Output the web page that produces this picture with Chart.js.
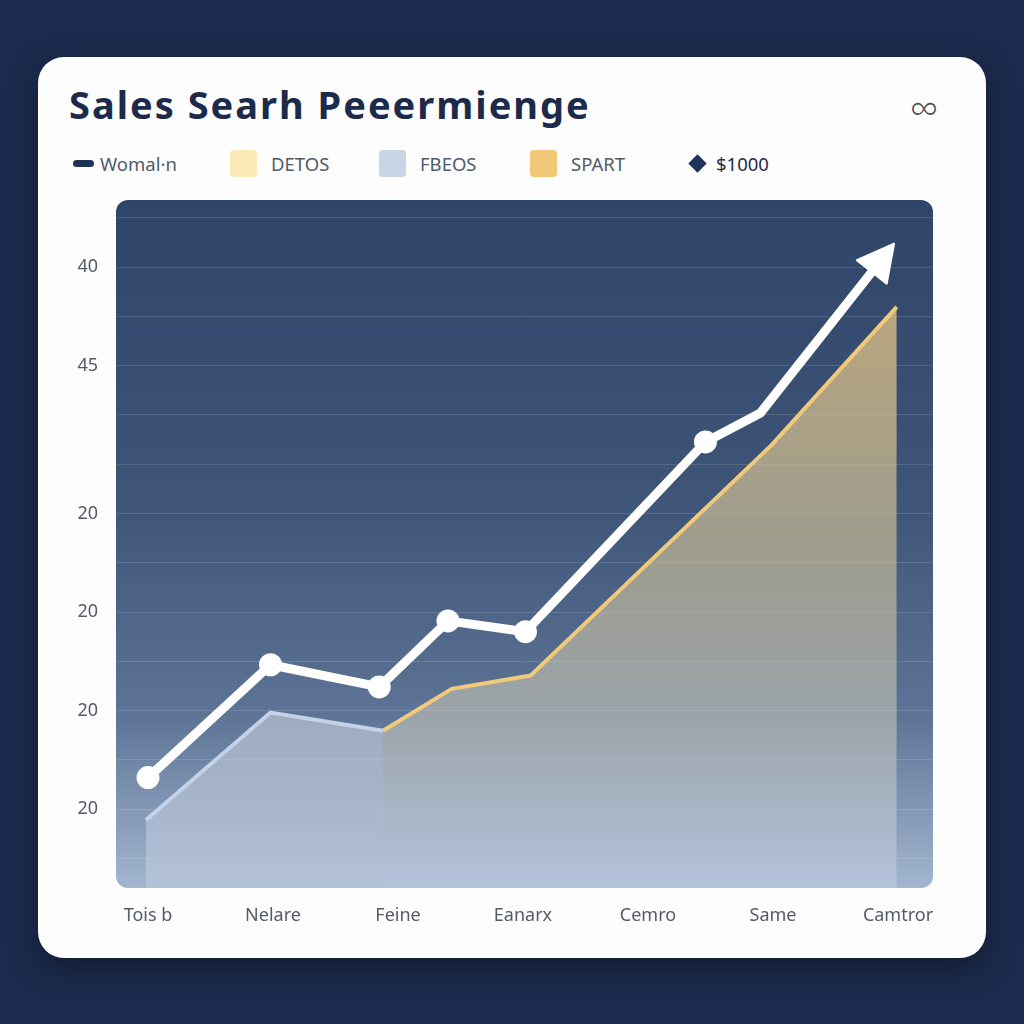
<!DOCTYPE html>
<html>
<head>
<meta charset="utf-8">
<script src="https://cdn.jsdelivr.net/npm/chart.js@4.4.1/dist/chart.umd.min.js"></script>
<style>
  html, body { margin: 0; padding: 0; width: 1024px; height: 1024px; overflow: hidden; }
  body { background: #1b2b4d; font-family: "Noto Sans", "Open Sans", sans-serif; position: relative; }
  .card {
    position: absolute; left: 38px; top: 57px; width: 948px; height: 901px;
    background: #fdfdfd; border-radius: 26px;
    box-shadow: 0 10px 30px rgba(0,0,0,0.35);
  }
  .title {
    position: absolute; left: 69px; top: 78px; margin: 0;
    font-size: 38px; font-weight: 700; color: #1c2b4a; letter-spacing: 2px;
  }
  .icon { position: absolute; left: 910px; top: 80px; font-size: 40px; color: #4a4f5a; font-weight: 300; }
  .legend { position: absolute; top: 148px; left: 0; height: 30px; }
  .lg { position: absolute; top: 0; display: flex; align-items: center; height: 30px;
        font-size: 18.5px; color: #525b6a; white-space: nowrap; }
  .sw { width: 27px; height: 27px; border-radius: 4px; margin-right: 14px; }
  .dash { width: 21px; height: 7px; border-radius: 4px; background: #1f3358; margin-right: 6px; }
  .dia { width: 13px; height: 13px; background: #1f3358; transform: rotate(45deg); margin-right: 12px; margin-left: 3px; }
  canvas { position: absolute; left: 0; top: 0; }
</style>
</head>
<body>
<div class="card"></div>
<h1 class="title">Sales Searh Peeermienge</h1>
<div class="icon">&#8734;</div>
<div class="legend">
  <div class="lg" style="left:73px"><div class="dash"></div>Womal·n</div>
  <div class="lg" style="left:230px"><div class="sw" style="background:#fbe9b6"></div>DETOS</div>
  <div class="lg" style="left:379px"><div class="sw" style="background:#c9d5e4"></div>FBEOS</div>
  <div class="lg" style="left:530px"><div class="sw" style="background:#f0c878"></div>SPART</div>
  <div class="lg" style="left:688px;color:#1f2c48"><div class="dia"></div>$1000</div>
</div>
<canvas id="chart" width="1024" height="1024"></canvas>
<script>
// categories on the x axis
const categories = ['Tois b', 'Nelare', 'Feine', 'Eanarx', 'Cemro', 'Same', 'Camtror'];

// y axis: gridlines and the (odd) labels printed next to some of them
const yGridValues = [1, 2, 3, 4, 5, 6, 7, 8, 9, 10, 11, 12, 13, 14];
const yLabelValues = [2, 4, 6, 8, 11, 13];
const yLabelTexts = ['20', '20', '20', '20', '45', '40'];

// white trend line (last point is the base of the arrow head)
const trendX = [0, 0.98, 1.85, 2.4, 3.02, 4.46, 4.9, 5.79];
const trendY = [2.64, 4.93, 4.48, 5.82, 5.6, 9.45, 10.04, 12.9];

// light blue area
const blueX = [-0.016, 0.98, 1.88];
const blueY = [1.78, 3.96, 3.59];

// gold area
const goldX = [1.88, 2.43, 3.06, 4.99, 5.99];
const goldY = [3.59, 4.44, 4.71, 9.39, 12.19];

function pts(xs, ys) {
    return xs.map(function (x, i) { return { x: x, y: ys[i] }; });
}

// plot background with rounded corners
const plotBg = {
    id: 'plotBg',
    beforeDraw: function (chart) {
        let a = chart.chartArea;
        let ctx = chart.ctx;
        let g = ctx.createLinearGradient(0, a.top, 0, a.bottom);
        g.addColorStop(0, '#2e4468');
        g.addColorStop(0.45, '#3f5679');
        g.addColorStop(0.75, '#5d7496');
        g.addColorStop(1, '#a3b6d0');
        ctx.save();
        ctx.beginPath();
        ctx.roundRect(a.left, a.top, a.right - a.left, a.bottom - a.top, 12);
        ctx.fillStyle = g;
        ctx.fill();
        ctx.restore();
    }
};

// arrow head at the end of the trend line
const arrowHead = {
    id: 'arrowHead',
    afterDatasetsDraw: function (chart) {
        let meta = chart.getDatasetMeta(2);
        let n = meta.data.length;
        let p = meta.data[n - 1], q = meta.data[n - 2];
        let dx = p.x - q.x, dy = p.y - q.y;
        let len = Math.sqrt(dx * dx + dy * dy);
        let ux = dx / len, uy = dy / len;
        let L = 36, W = 19;
        let ctx = chart.ctx;
        ctx.save();
        ctx.beginPath();
        ctx.moveTo(p.x + ux * L, p.y + uy * L);
        ctx.lineTo(p.x - uy * W, p.y + ux * W);
        ctx.lineTo(p.x + uy * W, p.y - ux * W);
        ctx.closePath();
        ctx.fillStyle = '#ffffff';
        ctx.lineJoin = 'round';
        ctx.lineWidth = 2;
        ctx.strokeStyle = '#ffffff';
        ctx.fill();
        ctx.stroke();
        ctx.restore();
    }
};

function goldFill(context) {
    let a = context.chart.chartArea;
    if (!a) return 'rgba(230,195,125,0.6)';
    let g = context.chart.ctx.createLinearGradient(0, a.top + 100, 0, a.bottom);
    g.addColorStop(0, 'rgba(232,198,130,0.75)');
    g.addColorStop(0.5, 'rgba(216,200,158,0.58)');
    g.addColorStop(1, 'rgba(195,208,228,0.5)');
    return g;
}

function blueFill(context) {
    let a = context.chart.chartArea;
    if (!a) return 'rgba(210,218,232,0.5)';
    let g = context.chart.ctx.createLinearGradient(0, a.top + 500, 0, a.bottom);
    g.addColorStop(0, 'rgba(215,220,230,0.55)');
    g.addColorStop(1, 'rgba(198,210,230,0.45)');
    return g;
}

let ctx = document.getElementById('chart').getContext('2d');

let chart = new Chart(ctx, {
    type: 'line',
    data: {
        datasets: [{
            label: 'FBEOS',
            data: pts(blueX, blueY),
            borderColor: '#c3d2e6',
            borderWidth: 4,
            backgroundColor: blueFill,
            fill: 'start',
            pointRadius: 0,
            tension: 0
        },
        {
            label: 'SPART',
            data: pts(goldX, goldY),
            borderColor: '#f0c97a',
            borderWidth: 4,
            backgroundColor: goldFill,
            fill: 'start',
            pointRadius: 0,
            tension: 0
        },
        {
            label: 'Womal·n',
            data: pts(trendX, trendY),
            borderColor: '#ffffff',
            borderWidth: 9,
            borderJoinStyle: 'round',
            borderCapStyle: 'round',
            pointRadius: [7, 7, 7, 7, 7, 7, 0, 0],
            pointBackgroundColor: '#ffffff',
            pointBorderColor: '#ffffff',
            fill: false,
            tension: 0
        }]
    },
    options: {
        responsive: false,
        animation: false,
        layout: { padding: { left: 40, top: 200, right: 91, bottom: 86 } },
        plugins: { legend: { display: false }, tooltip: { enabled: false } },
        scales: {
            x: {
                type: 'linear',
                min: -0.256,
                max: 6.28,
                afterBuildTicks: function (scale) {
                    scale.ticks = categories.map(function (c, i) { return { value: i }; });
                },
                afterFit: function (scale) { scale.height = 50; },
                ticks: {
                    padding: 9,
                    color: '#555b66',
                    font: { size: 18, family: 'Noto Sans' },
                    maxRotation: 0,
                    autoSkip: false,
                    callback: function (v) { return categories[v]; }
                },
                grid: { display: false },
                border: { display: false }
            },
            y: {
                type: 'linear',
                min: 0.4,
                max: 14.36,
                afterBuildTicks: function (scale) {
                    scale.ticks = yGridValues.map(function (v) { return { value: v }; });
                },
                afterFit: function (scale) { scale.width = 76; },
                ticks: {
                    padding: 18,
                    color: '#555b66',
                    font: { size: 18, family: 'Noto Sans' },
                    autoSkip: false,
                    callback: function (v) {
                        let i = yLabelValues.indexOf(v);
                        return i >= 0 ? yLabelTexts[i] : '';
                    }
                },
                grid: { color: 'rgba(255,255,255,0.13)', lineWidth: 1, drawTicks: false },
                border: { display: false }
            }
        }
    },
    plugins: [plotBg, arrowHead]
});
</script>
</body>
</html>
